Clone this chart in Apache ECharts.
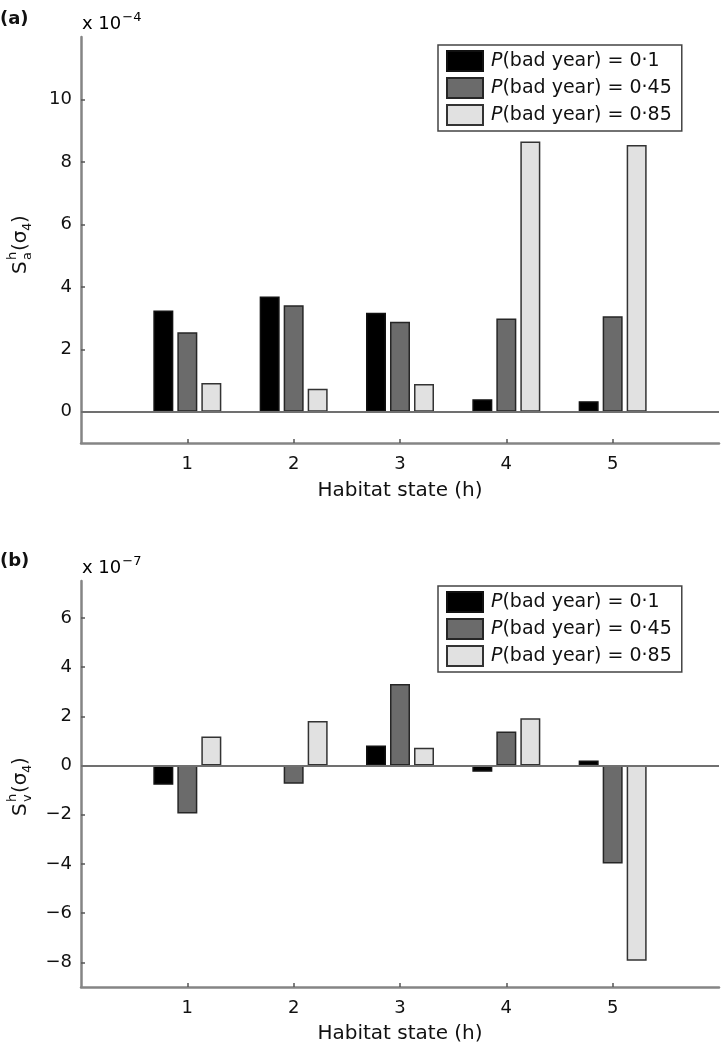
<!DOCTYPE html>
<html>
<head>
<meta charset="utf-8">
<script src="https://cdn.jsdelivr.net/npm/echarts@6/dist/echarts.min.js"></script>
<style>
html,body{margin:0;padding:0;background:#fff;}
#chart{width:724px;height:1050px;}
</style>
</head>
<body>
<div id="chart"></div>
<script>
// ---- data ----
const categories = ['', '1', '2', '3', '4', '5', ''];
const seriesNames = ['P(bad year) = 0·1', 'P(bad year) = 0·45', 'P(bad year) = 0·85'];
// Panel (a): S_a^h(sigma_4), units of 1e-4
const aLow  = [3.24, 3.69, 3.17, 0.40, 0.34];
const aMid  = [2.55, 3.41, 2.88, 2.99, 3.06];
const aHigh = [0.92, 0.74, 0.89, 8.65, 8.54];
// Panel (b): S_v^h(sigma_4), units of 1e-7
const bLow  = [-0.78, -0.03, 0.81, -0.25, 0.20];
const bMid  = [-1.95, -0.74, 3.31, 1.38, -3.98];
const bHigh = [1.18, 1.81, 0.72, 1.92, -7.93];
const aTicks = [0, 2, 4, 6, 8, 10];
const bTicks = [-8, -6, -4, -2, 0, 2, 4, 6];

const FONT = 'DejaVu Sans';
const fills = ['#000000', '#6b6b6b', '#e1e1e1'];
const borders = ['#111111', '#262626', '#333333'];
const AX = '#858585';

function pad(v) { return [null].concat(v).concat([null]); }

function xAxis(gi) {
  return {
    type: 'category', gridIndex: gi, data: categories, boundaryGap: false,
    axisLine: { onZero: false, lineStyle: { color: AX, width: 2.5 } },
    axisTick: { inside: true, length: 4, lineStyle: { color: '#555', width: 1.5 },
      interval: (i, v) => v !== '' },
    axisLabel: { interval: 0, color: '#111', fontSize: 18, fontFamily: FONT, margin: 12 },
    splitLine: { show: false }
  };
}
function yAxis(gi, min, max, ticks) {
  return {
    type: 'value', gridIndex: gi, min: min, max: max,
    axisLine: { show: true, onZero: false, lineStyle: { color: AX, width: 2.5 } },
    axisTick: { show: true, inside: true, length: 4, customValues: ticks, lineStyle: { color: '#555', width: 1.5 } },
    axisLabel: { customValues: ticks, color: '#111', fontSize: 18, fontFamily: FONT, margin: 9,
      formatter: v => String(v).replace('-', '\u2212') },
    splitLine: { show: false }
  };
}
function bar(i, gi, vals, withZero) {
  const s = {
    name: seriesNames[i], type: 'bar', xAxisIndex: gi, yAxisIndex: gi,
    data: pad(vals), barWidth: 20, barGap: '20%',
    itemStyle: { color: fills[i], borderColor: borders[i], borderWidth: 1.5 }
  };
  if (withZero) {
    s.markLine = { silent: true, symbol: ['none', 'none'], label: { show: false },
      lineStyle: { color: '#707070', width: 2, type: 'solid' }, data: [{ yAxis: 0 }] };
  }
  return s;
}
function legend(top) {
  return {
    orient: 'vertical', left: 438, top: top, data: seriesNames,
    icon: 'rect',
    itemWidth: 36, itemHeight: 20, itemGap: 5,
    padding: [5, 10, 5, 8],
    borderColor: '#444', borderWidth: 1.5, backgroundColor: '#fff',
    selectedMode: false,
    formatter: n => '{i|P}{r|' + n.slice(1) + '}',
    textStyle: {
      color: '#111', fontSize: 19, fontFamily: FONT, padding: [0, 0, 0, 3],
      rich: { i: { fontStyle: 'italic', fontSize: 19, fontFamily: FONT, color: '#111' },
              r: { fontSize: 19, fontFamily: FONT, color: '#111' } }
    }
  };
}
function yTitle(cx, cy, subLetter) {
  const big = { fontSize: 20, fontFamily: FONT, fill: '#111', verticalAlign: 'middle', align: 'left' };
  const small = { fontSize: 13, fontFamily: FONT, fill: '#111', verticalAlign: 'middle', align: 'left' };
  return {
    type: 'group', x: cx, y: cy, rotation: Math.PI / 2,
    children: [
      { type: 'text', x: -33, y: 0, style: Object.assign({ text: 'S' }, big) },
      { type: 'text', x: -19, y: -8, style: Object.assign({ text: 'h' }, small) },
      { type: 'text', x: -19, y: 7, style: Object.assign({ text: subLetter }, small) },
      { type: 'text', x: -10, y: 0, style: Object.assign({ text: '(σ' }, big) },
      { type: 'text', x: 10, y: 7, style: Object.assign({ text: '4' }, small) },
      { type: 'text', x: 18, y: 0, style: Object.assign({ text: ')' }, big) }
    ]
  };
}
function scaleText(x, y, exp) {
  return {
    type: 'text', left: x, top: y,
    style: {
      text: '{m|x 10}{s|' + exp + '}', fontFamily: FONT,
      rich: { m: { fontSize: 18, fontFamily: FONT, color: '#111', lineHeight: 22, verticalAlign: 'bottom' },
              s: { fontSize: 13, fontFamily: FONT, color: '#111', lineHeight: 22, verticalAlign: 'top', padding: [0, 0, 8, 1] } }
    }
  };
}

const chart = echarts.init(document.getElementById('chart'), null, { renderer: 'canvas' });
chart.setOption({
  animation: false,
  backgroundColor: '#fff',
  grid: [
    { left: 81, top: 37, width: 638, height: 406 },
    { left: 81, top: 581, width: 638, height: 406 }
  ],
  xAxis: [xAxis(0), xAxis(1)],
  yAxis: [yAxis(0, -1, 12, aTicks), yAxis(1, -9, 7.5, bTicks)],
  legend: [legend(45), legend(586)],
  series: [
    bar(0, 0, aLow, true), bar(1, 0, aMid, false), bar(2, 0, aHigh, false),
    bar(0, 1, bLow, true), bar(1, 1, bMid, false), bar(2, 1, bHigh, false)
  ],
  graphic: [
    { type: 'text', left: 0, top: 10, style: { text: '(a)', fontSize: 18, fontWeight: 'bold', fontFamily: FONT, fill: '#111' } },
    { type: 'text', left: 0, top: 552, style: { text: '(b)', fontSize: 18, fontWeight: 'bold', fontFamily: FONT, fill: '#111' } },
    scaleText(82, 11, '−4'),
    scaleText(82, 555, '−7'),
    yTitle(21, 241, 'a'),
    yTitle(21, 783, 'v'),
    { type: 'text', x: 400, y: 491, style: { text: 'Habitat state (h)', fontSize: 20, fontFamily: FONT, fill: '#111', align: 'center', verticalAlign: 'middle' } },
    { type: 'text', x: 400, y: 1034, style: { text: 'Habitat state (h)', fontSize: 20, fontFamily: FONT, fill: '#111', align: 'center', verticalAlign: 'middle' } }
  ]
});
</script>
</body>
</html>
